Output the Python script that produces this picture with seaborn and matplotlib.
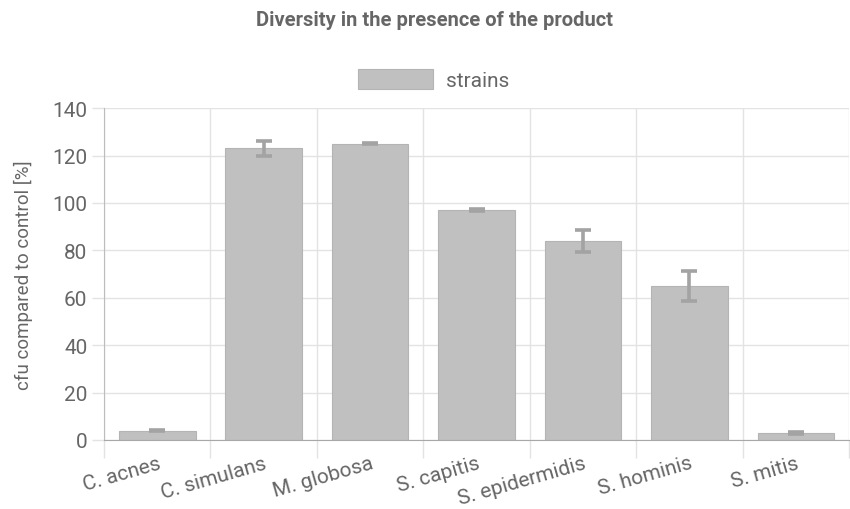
import matplotlib.pyplot as plt
import matplotlib.ticker as mticker
import pandas as pd
import seaborn as sb

# values
strains = ["C. acnes", "C. simulans", "M. globosa", "S. capitis",
           "S. epidermidis", "S. hominis", "S. mitis"]
cfu = [4, 123, 125, 97, 84, 65, 3]
cfu_err = [0.4, 3.0, 0.3, 0.3, 4.6, 6.5, 0.5]
yticks = [0, 20, 40, 60, 80, 100, 120, 140]

df = pd.DataFrame({"strain": strains, "cfu": cfu})

sb.set_style("white")
plt.rcParams["font.family"] = ["Roboto", "DejaVu Sans"]

fig = plt.figure(figsize=(8.5, 5.1), dpi=100)
ax = fig.add_axes([0.1224, 0.1353, 0.8766, 0.6507])

sb.barplot(data=df, x="strain", y="cfu", color="#c0c0c0", saturation=1,
           width=0.72, edgecolor="#b4b4b4", linewidth=0.8, ax=ax,
           label="strains", zorder=3)
ax.get_legend().remove()

# error bars on the category positions
ax.errorbar(range(len(strains)), cfu, yerr=cfu_err, fmt="none",
            ecolor="#a3a3a3", elinewidth=2.6, capsize=6, capthick=2.6,
            zorder=4)

ax.set_xlim(-0.5, len(strains) - 0.5)
ax.set_ylim(0, 140)
ax.set_yticks(yticks)

# grid lines between the categories, like chart.js offset grid
ax.xaxis.set_minor_locator(mticker.FixedLocator([i - 0.5 for i in range(len(strains) + 1)]))
ax.grid(axis="x", which="minor", color="#e3e3e3", linewidth=1, zorder=0)
ax.grid(axis="y", which="major", color="#e3e3e3", linewidth=1, zorder=0)
ax.tick_params(axis="x", which="major", bottom=False, pad=6, labelsize=15, labelcolor="#666666")
ax.tick_params(axis="x", which="minor", bottom=True, length=13, color="#e3e3e3", width=1)
ax.tick_params(axis="y", left=True, length=9, color="#e3e3e3", width=1, labelsize=15,
               labelcolor="#666666", pad=3)
plt.setp(ax.get_xticklabels(), rotation=16, ha="right", rotation_mode="anchor")

for side in ["top", "right"]:
    ax.spines[side].set_visible(False)
ax.spines["left"].set_color("#bdbdbd")
ax.spines["bottom"].set_color("#a8a8a8")
ax.spines["left"].set_zorder(5)
ax.spines["bottom"].set_zorder(5)

ax.set_xlabel("")
ax.set_ylabel("cfu compared to control [%]", fontsize=13.5, color="#666666", labelpad=14)

leg = fig.legend(loc="center", bbox_to_anchor=(0.51, 0.842), frameon=False,
                 fontsize=15, handlelength=3.6, handleheight=1.1, handletextpad=0.6)
for t in leg.get_texts():
    t.set_color("#666666")

fig.suptitle("Diversity in the presence of the product", x=0.511, y=0.978,
             fontsize=14.5, fontweight="bold", color="#666666")

plt.savefig("out.png", dpi=100)
